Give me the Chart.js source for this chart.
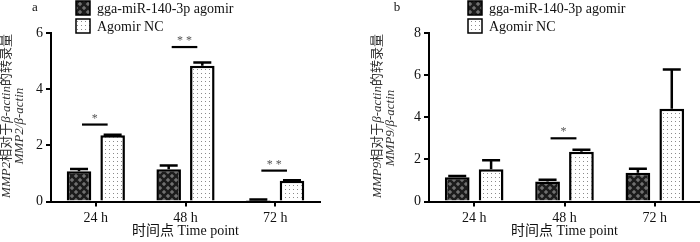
<!DOCTYPE html>
<html><head><meta charset="utf-8">
<script src="https://cdn.jsdelivr.net/npm/chart.js@4"></script>
<style>
html,body{margin:0;padding:0;background:#fff;}
#wrap{position:relative;width:700px;height:242px;overflow:hidden;background:#fff;}
#wrap canvas{position:absolute;top:0;}
</style></head><body>
<div id="wrap"><canvas id="ca" width="350" height="242" style="left:0"></canvas><canvas id="cb" width="350" height="242" style="left:350px"></canvas></div>
<script>
// ---- data ----
const categories = ['24 h', '48 h', '72 h'];
const seriesNames = ['gga-miR-140-3p agomir', 'Agomir NC'];
const mmp2Agomir = [1.08, 1.15, 0.05];
const mmp2AgomirErr = [0.08, 0.13, 0.02];
const mmp2NC = [2.36, 4.83, 0.74];
const mmp2NCErr = [0.02, 0.12, 0.02];
const mmp9Agomir = [1.15, 0.95, 1.37];
const mmp9AgomirErr = [0.06, 0.08, 0.18];
const mmp9NC = [1.53, 2.36, 4.40];
const mmp9NCErr = [0.43, 0.10, 1.87];
const mmp2Ticks = [0, 2, 4, 6];
const mmp9Ticks = [0, 2, 4, 6, 8];
const mmp2Sig = [{cat: 0, value: 2.74, label: '*'}, {cat: 1, value: 5.5, label: '* *'}, {cat: 2, value: 1.1, label: '* *'}];
const mmp9Sig = [{cat: 1, value: 3.0, label: '*'}];
const xTitle = '时间点 Time point';
const yTitleA = [[['MMP2', true], ['相对于', false], ['β-actin', true], ['的转录量', false]], [['MMP2/β-actin', true]]];
const yTitleB = [[['MMP9', true], ['相对于', false], ['β-actin', true], ['的转录量', false]], [['MMP9/β-actin', true]]];

// ---- styles ----
const FAM = "'Liberation Serif', 'Noto Sans CJK SC', serif";
function crossPattern() {
  const c = document.createElement('canvas'); c.width = 8; c.height = 8;
  const g = c.getContext('2d');
  g.fillStyle = '#707070'; g.fillRect(0, 0, 8, 8);
  g.strokeStyle = '#1c1c1c'; g.lineWidth = 2.6;
  g.beginPath();
  g.moveTo(-2, -2); g.lineTo(10, 10);
  g.moveTo(-2, 10); g.lineTo(10, -2);
  g.stroke();
  return g.createPattern(c, 'repeat');
}
function dotPattern() {
  const c = document.createElement('canvas'); c.width = 4; c.height = 4;
  const g = c.getContext('2d');
  g.fillStyle = '#ffffff'; g.fillRect(0, 0, 4, 4);
  g.fillStyle = '#8a8a8a'; g.fillRect(1, 1, 1, 1);
  return g.createPattern(c, 'repeat');
}

const overlay = {
  id: 'overlay',
  afterDatasetsDraw(chart, args, opts) {
    const ctx = chart.ctx, y = chart.scales.y;
    ctx.save();
    chart.data.datasets.forEach((ds, di) => {
      const meta = chart.getDatasetMeta(di);
      meta.data.forEach((bar, i) => {
        const top = y.getPixelForValue(ds.data[i] + ds.errors[i]);
        const base = y.getPixelForValue(ds.data[i]);
        ctx.strokeStyle = '#000'; ctx.lineWidth = 2.5;
        ctx.beginPath();
        ctx.moveTo(bar.x, base); ctx.lineTo(bar.x, top);
        ctx.moveTo(bar.x - 9, top); ctx.lineTo(bar.x + 9, top);
        ctx.stroke();
      });
    });
    opts.sig.forEach(s => {
      const x0 = chart.getDatasetMeta(0).data[s.cat].x + 3;
      const x1 = chart.getDatasetMeta(1).data[s.cat].x - 5;
      const py = y.getPixelForValue(s.value);
      ctx.strokeStyle = '#000'; ctx.lineWidth = 2.2;
      ctx.beginPath(); ctx.moveTo(x0, py); ctx.lineTo(x1, py); ctx.stroke();
      ctx.fillStyle = '#555'; ctx.font = '12px ' + FAM;
      ctx.textAlign = 'center'; ctx.textBaseline = 'middle';
      ctx.fillText(s.label, (x0 + x1) / 2, py - 6);
    });
    ctx.restore();
  },
  afterDraw(chart, args, opts) {
    const ctx = chart.ctx;
    ctx.save();
    // panel label
    ctx.fillStyle = '#111'; ctx.font = '13px ' + FAM; ctx.textAlign = 'center'; ctx.textBaseline = 'middle';
    ctx.fillText(opts.panel, opts.panelX, 8);
    // legend
    chart.data.datasets.forEach((ds, i) => {
      const cy = 8 + i * 18;
      ctx.fillStyle = ds.backgroundColor;
      ctx.fillRect(opts.legX, cy - 7, 14, 14);
      ctx.strokeStyle = '#000'; ctx.lineWidth = 1.5;
      ctx.strokeRect(opts.legX, cy - 7, 14, 14);
      ctx.fillStyle = '#111'; ctx.font = '14px ' + FAM; ctx.textAlign = 'left'; ctx.textBaseline = 'middle';
      ctx.fillText(ds.label, opts.legX + 21, cy + 1);
    });
    // y title, mixed fonts, rotated
    opts.yTitle.forEach((runs, li) => {
      const fontOf = it => (it ? 'italic ' : '') + '13px ' + FAM;
      let total = 0;
      runs.forEach(r => { ctx.font = fontOf(r[1]); total += ctx.measureText(r[0]).width; });
      ctx.save();
      ctx.translate(opts.yTitleX[li], opts.yTitleY[li]);
      ctx.rotate(-Math.PI / 2);
      ctx.textAlign = 'left'; ctx.textBaseline = 'middle'; ctx.fillStyle = '#333';
      let x = -total / 2;
      runs.forEach(r => { ctx.font = fontOf(r[1]); ctx.fillText(r[0], x, 0); x += ctx.measureText(r[0]).width; });
      ctx.restore();
    });
    ctx.restore();
  }
};

function makeChart(id, ag, agErr, nc, ncErr, ticks, sig, o) {
  return new Chart(document.getElementById(id), {
    type: 'bar',
    data: {
      labels: categories,
      datasets: [
        {label: seriesNames[0], data: ag, errors: agErr, backgroundColor: crossPattern(), borderColor: '#000', borderWidth: 2.5, borderSkipped: 'bottom'},
        {label: seriesNames[1], data: nc, errors: ncErr, backgroundColor: dotPattern(), borderColor: '#000', borderWidth: 2.5, borderSkipped: 'bottom'}
      ]
    },
    options: {
      responsive: false, animation: false, devicePixelRatio: 1,
      categoryPercentage: 0.75, barPercentage: 0.73,
      layout: {padding: {top: 33, bottom: 0, left: 0, right: o.padRight}},
      plugins: {legend: {display: false}, tooltip: {enabled: false},
        overlay: {sig: sig, panel: o.panel, panelX: o.panelX, legX: o.legX, yTitle: o.yTitle, yTitleX: o.yTitleX, yTitleY: o.yTitleY}},
      scales: {
        x: {
          afterFit: s => { s.height = 40.5; },
          grid: {display: true, drawOnChartArea: false, offset: false, tickLength: 5, color: '#000', lineWidth: 2},
          border: {display: true, color: '#000', width: 2},
          ticks: {font: {family: FAM, size: 14}, color: '#111', padding: 3},
          title: {display: true, text: xTitle, font: {family: FAM, size: 14}, color: '#111', padding: {top: 0, bottom: 2}}
        },
        y: {
          min: ticks[0], max: ticks[ticks.length - 1],
          afterFit: s => { s.width = o.yWidth; },
          afterBuildTicks: s => { s.ticks = ticks.map(v => ({value: v})); },
          grid: {display: true, drawOnChartArea: false, tickLength: 5, color: '#000', lineWidth: 2},
          border: {display: true, color: '#000', width: 2},
          ticks: {font: {family: FAM, size: 14}, color: '#111', padding: 3}
        }
      }
    },
    plugins: [overlay]
  });
}

makeChart('ca', mmp2Agomir, mmp2AgomirErr, mmp2NC, mmp2NCErr, mmp2Ticks, mmp2Sig,
  {padRight: 30, yWidth: 51, panel: 'a', panelX: 35, legX: 76, yTitle: yTitleA, yTitleX: [7, 20], yTitleY: [116, 126]});
makeChart('cb', mmp9Agomir, mmp9AgomirErr, mmp9NC, mmp9NCErr, mmp9Ticks, mmp9Sig,
  {padRight: 0, yWidth: 79, panel: 'b', panelX: 47, legX: 118, yTitle: yTitleB, yTitleX: [28, 41], yTitleY: [116, 128]});
</script>
</body></html>
